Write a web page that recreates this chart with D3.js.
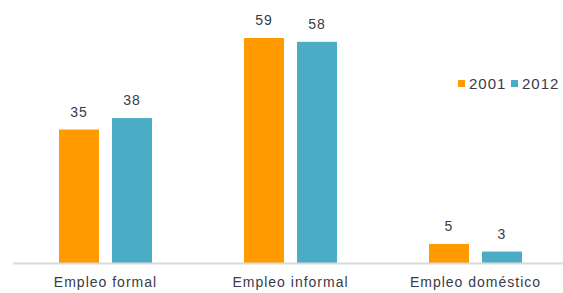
<!DOCTYPE html>
<html>
<head>
<meta charset="utf-8">
<script src="https://cdn.jsdelivr.net/npm/d3@7"></script>
<style>
  body { margin: 0; background: #fff; }
  text { font-family: "Liberation Sans", Arial, sans-serif; fill: #383b48; }
</style>
</head>
<body>
<svg id="chart" width="563" height="293"></svg>
<script>
// data
const categories = ["Empleo formal", "Empleo informal", "Empleo doméstico"];
const years = ["2001", "2012"];
const values2001 = [35, 59, 5];
const values2012 = [38, 58, 3];
const colors = ["#FF9A00", "#4BACC6"];

const svg = d3.select("#chart");
const baseY = 263;

// outer band per category, inner band per year
const x0 = d3.scaleBand().domain(categories).range([13, 568]).padding(0);
const x1 = d3.scaleBand().domain(years).range([-46.5, 46.5]).paddingInner(0.245);
const y = d3.scaleLinear().domain([0, 59]).range([baseY, 38]);

const rows = categories.map((c, i) => ({
  cat: c,
  vals: [{ year: "2001", v: values2001[i] }, { year: "2012", v: values2012[i] }]
}));

const g = svg.selectAll("g.cat").data(rows).join("g")
  .attr("class", "cat")
  .attr("transform", d => `translate(${x0(d.cat) + x0.bandwidth() / 2},0)`);

g.selectAll("rect").data(d => d.vals).join("rect")
  .attr("x", d => x1(d.year))
  .attr("width", x1.bandwidth())
  .attr("y", d => y(d.v))
  .attr("height", d => baseY - y(d.v))
  .attr("fill", (d, i) => colors[i]);

g.selectAll("text.val").data(d => d.vals).join("text")
  .attr("class", "val")
  .attr("x", d => x1(d.year) + x1.bandwidth() / 2)
  .attr("y", d => y(d.v) - 13)
  .attr("text-anchor", "middle")
  .style("font-size", "14px")
  .style("letter-spacing", "1px")
  .text(d => d.v);

// baseline
svg.append("line")
  .attr("x1", 13).attr("x2", 563)
  .attr("y1", baseY + 0.5).attr("y2", baseY + 0.5)
  .attr("stroke", "#d9d9d9").attr("stroke-width", 2);

// category labels
svg.selectAll("text.cat").data(categories).join("text")
  .attr("class", "cat")
  .attr("x", d => x0(d) + x0.bandwidth() / 2)
  .attr("y", 287)
  .attr("text-anchor", "middle")
  .style("font-size", "14px")
  .style("letter-spacing", "1px")
  .text(d => d);

// legend
const legX = [458, 511];
const leg = svg.selectAll("g.leg").data(years).join("g")
  .attr("class", "leg")
  .attr("transform", (d, i) => `translate(${legX[i]},80)`);
leg.append("rect").attr("width", 7).attr("height", 7)
  .attr("fill", (d, i) => colors[i]);
leg.append("text")
  .attr("x", 11).attr("y", 8.5)
  .style("font-size", "15px")
  .style("letter-spacing", "1px")
  .text(d => d);
</script>
</body>
</html>
